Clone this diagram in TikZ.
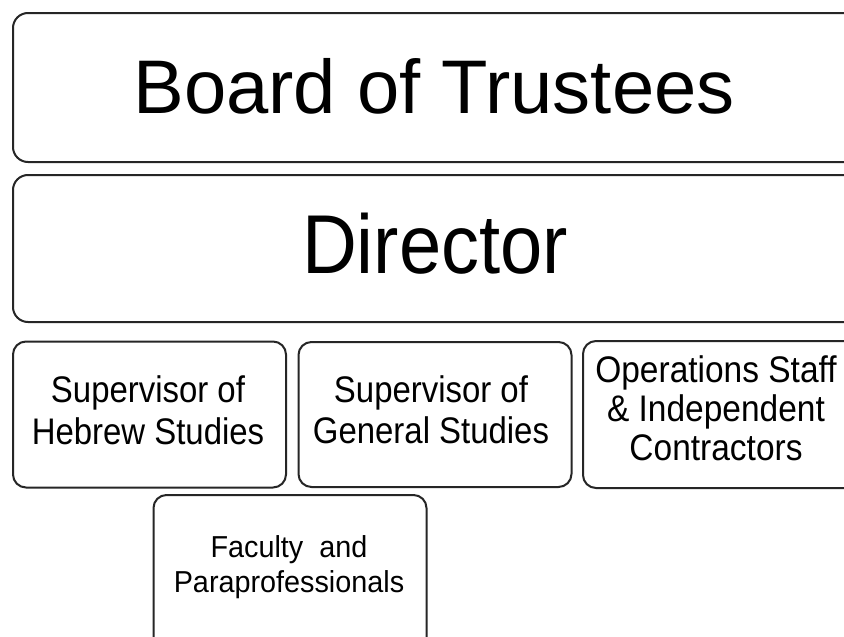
\documentclass[tikz,border=0pt]{standalone}
\usepackage{fontspec}
\setmainfont{Liberation Sans}
\usepackage{graphicx}
\tikzset{
  orgbox/.style={draw=black!85, line width=2pt, rounded corners=13pt, inner sep=0pt, fill=white},
  lbl/.style={anchor=base, inner sep=0pt, text=black}
}
\begin{document}
\begin{tikzpicture}[x=1pt,y=-1pt]
\useasboundingbox (0,0) rectangle (844,637);
\clip (0,0) rectangle (844,637);
\fill[white] (0,0) rectangle (844,637);
% boxes
\node[orgbox, rounded corners=15pt, minimum width=900pt, minimum height=149pt] (board) at (463,87.5) {};
\node[orgbox, rounded corners=15pt, minimum width=900pt, minimum height=147pt] (director) at (463,248.5) {};
\node[orgbox, minimum width=273pt, minimum height=146pt] (hebrew) at (149.5,414.5) {};
\node[orgbox, minimum width=273pt, minimum height=145pt] (general) at (435,414.5) {};
\node[orgbox, minimum width=300pt, minimum height=147pt] (ops) at (733,414.5) {};
\node[orgbox, minimum width=273pt, minimum height=170pt] (faculty) at (290,580) {};
% texts
\node[lbl] (boardt) at (434,113) {\fontsize{76}{80}\selectfont Board of Trustees};
\node[lbl] (directort) at (435,273) {\scalebox{0.91}[1]{\fontsize{83.5}{88}\selectfont Director}};
\node[lbl] (hebrewt) at (148,402) {\scalebox{0.89}[1]{\fontsize{37}{42.5}\selectfont\begin{tabular}[t]{@{}c@{}}Supervisor of\\Hebrew Studies\end{tabular}}};
\node[lbl] (generalt) at (431,402) {\scalebox{0.89}[1]{\fontsize{37}{41.5}\selectfont\begin{tabular}[t]{@{}c@{}}Supervisor of\\General Studies\end{tabular}}};
\node[lbl] (opst) at (716,382) {\scalebox{0.905}[1]{\fontsize{37}{39}\selectfont\begin{tabular}[t]{@{}c@{}}Operations Staff\\\& Independent\\Contractors\end{tabular}}};
\node[lbl] (facultyt) at (289,557) {\scalebox{0.95}[1]{\fontsize{30.3}{35}\selectfont\begin{tabular}[t]{@{}c@{}}Faculty\ \ and\\Paraprofessionals\end{tabular}}};
\end{tikzpicture}
\end{document}
